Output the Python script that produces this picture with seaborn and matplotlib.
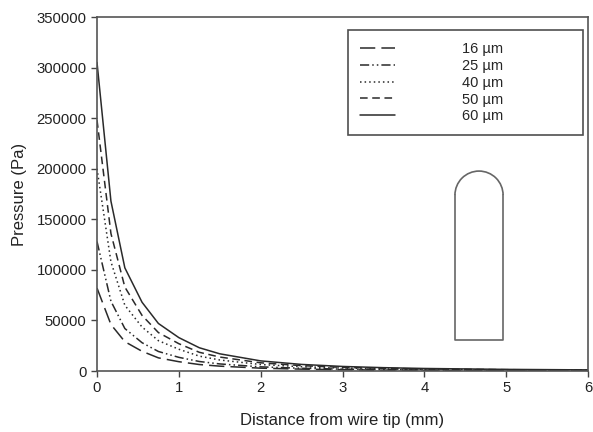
import numpy as np
import pandas as pd
import matplotlib
matplotlib.use("Agg")
import matplotlib.pyplot as plt
import matplotlib.patches as mpatches
import seaborn as sns

# Datos (presion vs distancia a la punta del alambre)
distancia_mm = [0, 0.17, 0.34, 0.55, 0.75, 1.0, 1.25, 1.5, 2.0, 2.5, 3.0, 3.5, 4.0, 5.0, 6.0]
p_16 = [82000, 46000, 29000, 19500, 13000, 9200, 6400, 4800, 2800, 1850, 1250, 900, 700, 450, 300]
p_25 = [128000, 69000, 42000, 28000, 19300, 13500, 9400, 7000, 4100, 2700, 1850, 1350, 1000, 650, 450]
p_40 = [200000, 108000, 65000, 43500, 30000, 21500, 14700, 10900, 6400, 4200, 2900, 2100, 1600, 1000, 700]
p_50 = [248000, 136000, 83000, 55000, 38000, 27000, 18500, 13800, 8100, 5300, 3600, 2700, 2000, 1300, 900]
p_60 = [305000, 168000, 102000, 68000, 47000, 33000, 23000, 17000, 10000, 6500, 4500, 3300, 2500, 1600, 1100]

etiquetas = ["16 µm", "25 µm", "40 µm", "50 µm", "60 µm"]
series = [p_16, p_25, p_40, p_50, p_60]

# Formato largo para seaborn
filas = []
for etiqueta, valores in zip(etiquetas, series):
    for x, y in zip(distancia_mm, valores):
        filas.append({"dist": x, "presion": y, "diam": etiqueta})
df = pd.DataFrame(filas)

sns.set_style("ticks")
plt.rcParams['font.family'] = ['Liberation Sans', 'DejaVu Sans']

estilos = {
    "16 µm": (10, 4),
    "25 µm": (6, 2, 1, 2, 1, 2),
    "40 µm": (1, 2),
    "50 µm": (5, 3),
    "60 µm": "",
}

fig = plt.figure(figsize=(5.93, 4.32), dpi=100)
ax = fig.add_axes([0.1636, 0.1412, 0.828, 0.8194])

sns.lineplot(data=df, x="dist", y="presion", style="diam", dashes=estilos,
             color="#2a2a2a", linewidth=1.1, ax=ax, legend=True)

ax.set_xlim(0, 6)
ax.set_ylim(0, 350000)
ax.set_xticks(range(0, 7))
ax.set_yticks(range(0, 350001, 50000))
ax.tick_params(axis="both", labelsize=10.7, length=4, width=1, color="#444444",
               labelcolor="#222222")
for lado in ["top", "right", "left", "bottom"]:
    ax.spines[lado].set_visible(True)
    ax.spines[lado].set_color("#555555")
    ax.spines[lado].set_linewidth(1.2)

ax.set_xlabel("Distance from wire tip (mm)", fontsize=12, labelpad=13, color="#222222")
ax.set_ylabel("Pressure (Pa)", fontsize=12, labelpad=7, color="#222222")

handles, labels = ax.get_legend_handles_labels()
leg = ax.legend(handles, labels, loc="upper left",
                bbox_to_anchor=(0.511, 0.672, 0.479, 0.291), mode="expand",
                frameon=True, fancybox=False, edgecolor="#222222", fontsize=10.5,
                handlelength=2.4, handletextpad=4.6, labelspacing=0.2,
                borderpad=0.8, borderaxespad=0)
leg.get_frame().set_linewidth(1.2)

# Dibujo esquematico de la punta del alambre (coordenadas de ejes)
izq, der, abajo, arriba_lado = 0.729, 0.827, 0.0876, 0.497
rx, ry = (der - izq) / 2, 0.0678
col = "#666666"
ax.plot([izq, izq, der, der], [arriba_lado, abajo, abajo, arriba_lado],
        transform=ax.transAxes, color=col, linewidth=1.2)
ax.add_patch(mpatches.Arc(((izq + der) / 2, arriba_lado), 2 * rx, 2 * ry,
                          theta1=0, theta2=180, transform=ax.transAxes,
                          color=col, linewidth=1.2))

fig.savefig("out.png", dpi=100)
